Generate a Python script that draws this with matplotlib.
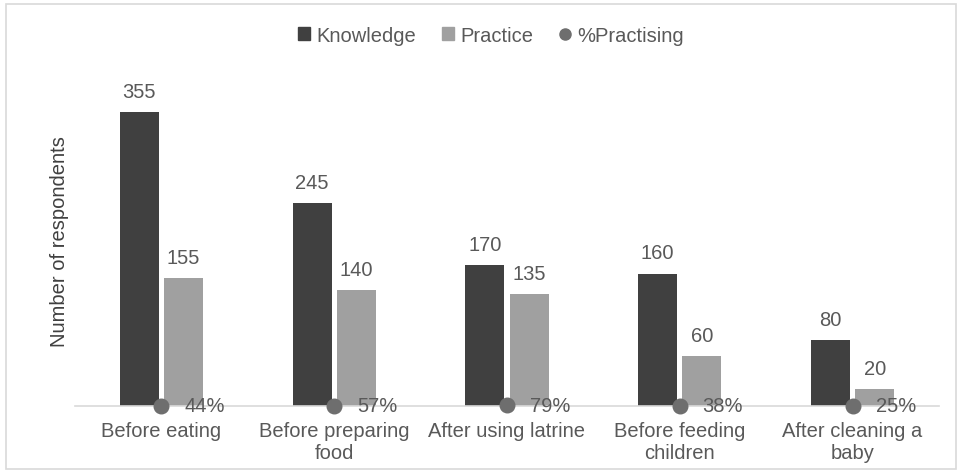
import matplotlib.pyplot as plt
import numpy as np
from matplotlib.patches import Rectangle
from matplotlib.lines import Line2D

categories = ["Before eating", "Before preparing\nfood", "After using latrine",
              "Before feeding\nchildren", "After cleaning a\nbaby"]
knowledge = [355, 245, 170, 160, 80]
practice = [155, 140, 135, 60, 20]
pct_practising = [44, 57, 79, 38, 25]

dark = "#404040"
light = "#a0a0a0"
dot = "#6e6e6e"
txt = "#595959"

plt.rcParams['font.family'] = ['Liberation Sans', 'DejaVu Sans']

fig = plt.figure(figsize=(9.62, 4.77), dpi=100)
ax = fig.add_axes([75 / 962, 70 / 477, (939 - 75) / 962, 331 / 477])

x = np.arange(len(categories))
w = 0.225
off = 0.128
ax.bar(x - off, knowledge, w, color=dark, label="Knowledge")
ax.bar(x + off, practice, w, color=light, label="Practice")
ax.scatter(x, [p / 100 for p in pct_practising], s=110, color=dot, zorder=3,
           clip_on=False, label="%Practising")

# value labels
for xi, v in zip(x, knowledge):
    ax.annotate(str(v), (xi - off, v), xytext=(0, 8), textcoords="offset points",
                ha="center", va="bottom", fontsize=14.5, color=txt)
for xi, v in zip(x, practice):
    ax.annotate(str(v), (xi + off, v), xytext=(0, 8), textcoords="offset points",
                ha="center", va="bottom", fontsize=14.5, color=txt)
for xi, p in zip(x, pct_practising):
    ax.annotate(f"{p}%", (xi, 0), xytext=(31, 0), textcoords="offset points",
                ha="center", va="center", fontsize=14.5, color=txt, zorder=4)

ax.set_xlim(-0.5, len(categories) - 0.5)
ax.set_ylim(0, 400)
ax.set_xticks(x)
ax.set_xticklabels(categories, fontsize=14.5, color=txt, linespacing=1.2)
ax.tick_params(axis="x", length=0, pad=11)
ax.set_yticks([])
for s in ["top", "right", "left"]:
    ax.spines[s].set_visible(False)
ax.spines["bottom"].set_color("#d9d9d9")
ax.spines["bottom"].set_linewidth(1.2)

ax.set_ylabel("Number of respondents", fontsize=14.5, color="#404040")
ax.yaxis.set_label_coords(-0.007, 0.5)

handles = [Rectangle((0, 0), 1, 1, color=dark), Rectangle((0, 0), 1, 1, color=light),
           Line2D([], [], marker="o", linestyle="", color=dot, markersize=8)]
fig.legend(handles, ["Knowledge", "Practice", "%Practising"], loc="center",
           bbox_to_anchor=(491 / 962, 1 - 36 / 477), ncol=3, frameon=False,
           fontsize=14.5, labelcolor=txt, handlelength=0.6, handleheight=0.6,
           handletextpad=0.3, columnspacing=1.3)

# outer chart-area border
fig.patches.append(Rectangle((6 / 962, 7 / 477), 950 / 962, 465 / 477,
                             transform=fig.transFigure, fill=False,
                             edgecolor="#d9d9d9", linewidth=1.2))

fig.savefig("out.png", dpi=100)
